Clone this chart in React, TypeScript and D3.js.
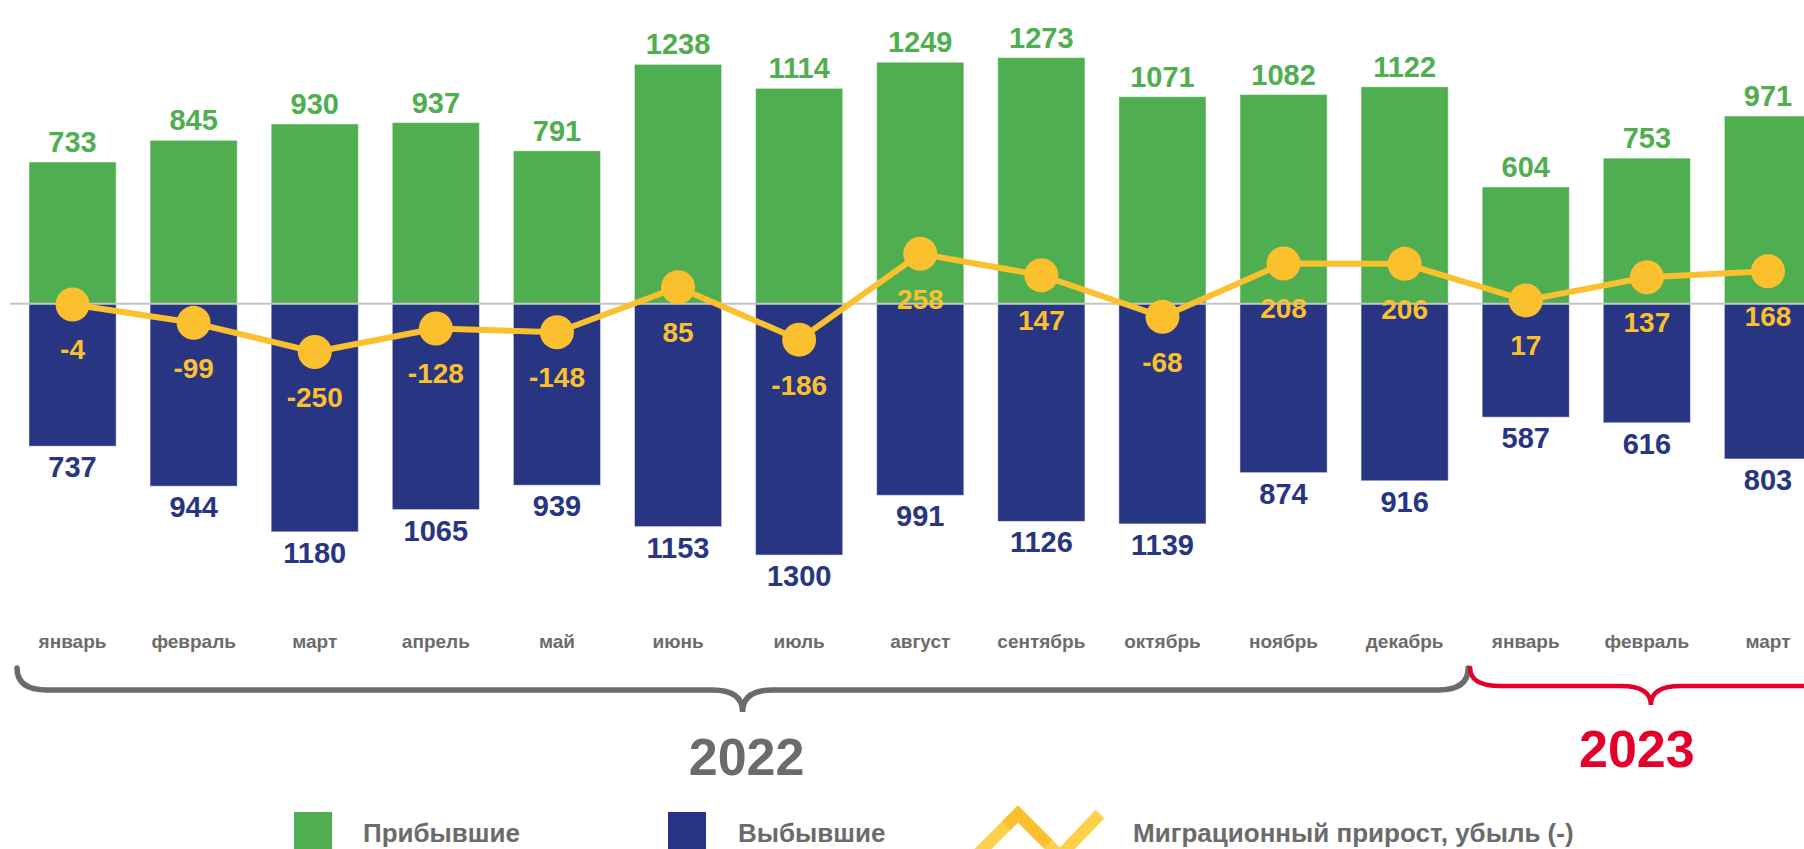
import React from 'react';
import * as d3 from 'd3';

const months = ['январь', 'февраль', 'март', 'апрель', 'май', 'июнь', 'июль', 'август', 'сентябрь', 'октябрь', 'ноябрь', 'декабрь', 'январь', 'февраль', 'март'];
const arrived = [733, 845, 930, 937, 791, 1238, 1114, 1249, 1273, 1071, 1082, 1122, 604, 753, 971];
const departed = [737, 944, 1180, 1065, 939, 1153, 1300, 991, 1126, 1139, 874, 916, 587, 616, 803];
const netGrowth = [-4, -99, -250, -128, -148, 85, -186, 258, 147, -68, 208, 206, 17, 137, 168];
const years = [
    { label: '2022', from: 0, to: 11 },
    { label: '2023', from: 12, to: 14 },
];
const legendItems = ['Прибывшие', 'Выбывшие', 'Миграционный прирост, убыль (-)'];

const WIDTH = 1804;
const HEIGHT = 849;
const GREEN = '#4fae50';
const BLUE = '#283583';
const YELLOW = '#fbc02d';
const GRAY = '#6b6b6b';
const RED = '#e3002b';
const FONT = '"Liberation Sans", Arial, sans-serif';

// curly brace under a group of months
function bracePath(x0: number, x1: number, yTop: number, yLine: number, yTip: number) {
    const xm = (x0 + x1) / 2;
    const r = 30;
    return `M${x0},${yTop} Q${x0},${yLine} ${x0 + r},${yLine} L${xm - r},${yLine} Q${xm},${yLine} ${xm},${yTip} ` +
        `Q${xm},${yLine} ${xm + r},${yLine} L${x1 - r},${yLine} Q${x1},${yLine} ${x1},${yTop}`;
}

const App: React.FC = () => {
    const idx = months.map((_, i) => i);

    const x = d3.scaleBand<number>()
        .domain(idx)
        .range([12, 1828.5])
        .paddingInner(0.28)
        .paddingOuter(0.14);

    const y = d3.scaleLinear()
        .domain([-1500, 1500])
        .range([593.7, 13.7]);

    const cx = (i: number) => (x(i) as number) + x.bandwidth() / 2;

    const line = d3.line<number>()
        .x((_, i) => cx(i))
        .y(d => y(d));

    const braceColors = [GRAY, RED];
    const halfGap = x.step() * x.paddingInner() / 2;

    return (
        <svg width={WIDTH} height={HEIGHT} style={{ position: 'absolute', left: 0, top: 0 }} fontFamily={FONT}>
            <rect width={WIDTH} height={HEIGHT} fill="#fff" />

            {/* arrived bars */}
            {arrived.map((v, i) => (
                <rect key={'a' + i} x={x(i)} y={y(v)} width={x.bandwidth()} height={y(0) - y(v)}
                    fill={GREEN} stroke="#ffffff" strokeOpacity={0.5} strokeWidth={1} />
            ))}
            {/* departed bars */}
            {departed.map((v, i) => (
                <rect key={'d' + i} x={x(i)} y={y(0)} width={x.bandwidth()} height={y(-v) - y(0)}
                    fill={BLUE} stroke="#ffffff" strokeOpacity={0.5} strokeWidth={1} />
            ))}

            <line x1={10} x2={WIDTH} y1={y(0)} y2={y(0)} stroke="#c4c4c4" strokeWidth={2} />

            {/* net growth line */}
            <path d={line(netGrowth) || ''} fill="none" stroke={YELLOW} strokeWidth={6} strokeLinejoin="round" />
            {netGrowth.map((v, i) => (
                <circle key={'c' + i} cx={cx(i)} cy={y(v)} r={17} fill={YELLOW} />
            ))}

            {/* labels */}
            {arrived.map((v, i) => (
                <text key={'la' + i} x={cx(i)} y={y(v) - 10} textAnchor="middle" fontSize={29} fontWeight="bold" fill={GREEN}>{v}</text>
            ))}
            {departed.map((v, i) => (
                <text key={'ld' + i} x={cx(i)} y={y(-v) + 31} textAnchor="middle" fontSize={29} fontWeight="bold" fill={BLUE}>{v}</text>
            ))}
            {netGrowth.map((v, i) => (
                <text key={'ln' + i} x={cx(i)} y={y(v) + 55} textAnchor="middle" fontSize={28} fontWeight="bold" fill={YELLOW}>{v}</text>
            ))}

            {/* month labels */}
            {months.map((m, i) => (
                <text key={'m' + i} x={cx(i)} y={648} textAnchor="middle" fontSize={19} fontWeight="bold" fill={GRAY}>{m}</text>
            ))}

            {/* year braces */}
            {years.map((yr, k) => {
                const x0 = (x(yr.from) as number) - halfGap + 5;
                const x1 = (x(yr.to) as number) + x.bandwidth() + halfGap + 3;
                const tip = k === 0 ? 712 : 705;
                const lineY = k === 0 ? 690 : 686;
                return (
                    <g key={'y' + k}>
                        <path d={bracePath(x0, x1, 668, lineY, tip)} fill="none" stroke={braceColors[k]}
                            strokeWidth={k === 0 ? 5.5 : 4.5} strokeLinecap="round" />
                        <text x={(x0 + x1) / 2 + (k === 0 ? 4 : -14)} y={k === 0 ? 775 : 767} textAnchor="middle" fontSize={52}
                            fontWeight="bold" fill={braceColors[k]}>{yr.label}</text>
                    </g>
                );
            })}

            {/* legend */}
            <rect x={294} y={812} width={38} height={40} fill={GREEN} />
            <text x={363} y={842} fontSize={26} fontWeight="bold" fill={GRAY}>{legendItems[0]}</text>
            <rect x={668} y={812} width={38} height={40} fill={BLUE} />
            <text x={738} y={842} fontSize={26} fontWeight="bold" fill={GRAY}>{legendItems[1]}</text>
            <polyline points="976,856 1018,814 1060,856 1100,814" fill="none" stroke="#fdd14a" strokeWidth={12} />
            <polyline points="1006,826 1018,814 1048,844" fill="none" stroke={YELLOW} strokeWidth={12} />
            <text x={1133} y={842} fontSize={26} fontWeight="bold" fill={GRAY}>{legendItems[2]}</text>
        </svg>
    );
};

export default App;
